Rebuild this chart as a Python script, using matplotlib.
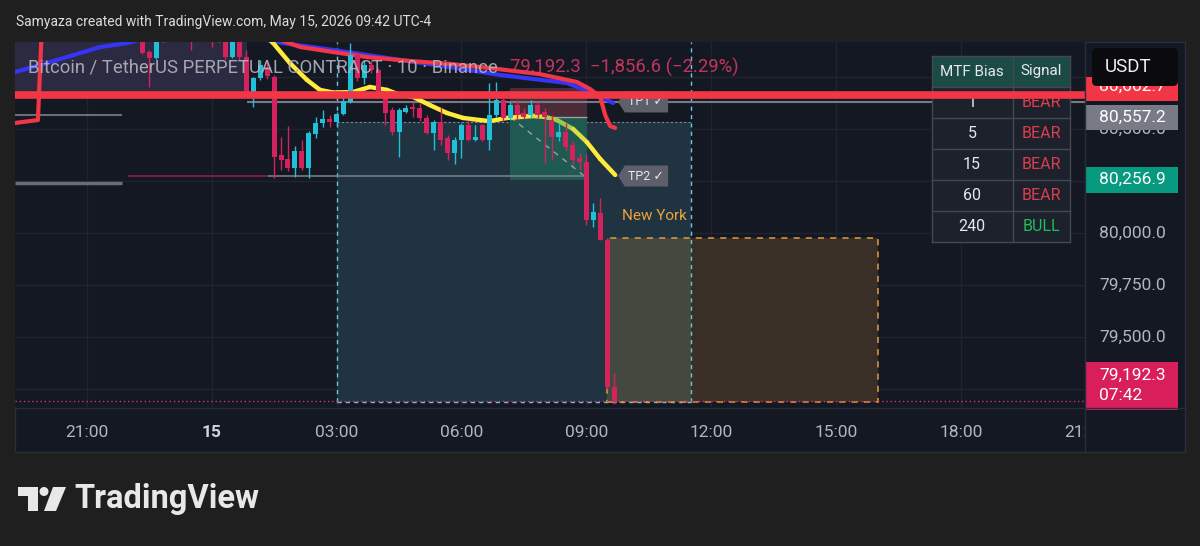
import numpy as np
import matplotlib
matplotlib.use('Agg')
import matplotlib.pyplot as plt
from matplotlib.patches import Rectangle, Polygon, FancyBboxPatch, Circle
from matplotlib.collections import LineCollection
from matplotlib.lines import Line2D
from matplotlib.colors import to_rgb
from matplotlib.transforms import Affine2D, blended_transform_factory, Bbox, TransformedBbox

plt.rcParams['font.family'] = ['Roboto', 'DejaVu Sans']

W, H = 1200, 546
BG = '#1f1f1f'
PANEL = '#141823'
GRID = '#20242f'
TXT = '#b2b5be'
BULL = '#22bfd9'
BEAR = '#d4225f'
AXFS = 12.5  # axis / tag font size

# 10 minute candles, BTCUSDT.P (times = bar open, May 14 evening -> May 15)
bar_times = ['22:20', '22:30', '22:40', '22:50', '23:00', '23:10', '23:20', '23:30', '23:40', '23:50',
             '00:00', '00:10', '00:20', '00:30', '00:40', '00:50', '01:00', '01:10', '01:20', '01:30',
             '01:40', '01:50', '02:00', '02:10', '02:20', '02:30', '02:40', '02:50', '03:00', '03:10',
             '03:20', '03:30', '03:40', '03:50', '04:00', '04:10', '04:20', '04:30', '04:40', '04:50',
             '05:00', '05:10', '05:20', '05:30', '05:40', '05:50', '06:00', '06:10', '06:20', '06:30',
             '06:40', '06:50', '07:00', '07:10', '07:20', '07:30', '07:40', '07:50', '08:00', '08:10',
             '08:20', '08:30', '08:40', '08:50', '09:00', '09:10', '09:20', '09:30', '09:40']
opens = [80920, 80870, 80841, 80930, 80975, 80950, 80980, 80960, 80935, 80965,
         80945, 80930, 80950, 80846, 80925, 80846, 80673, 80745, 80800, 80750,
         80375, 80356, 80313, 80394, 80313, 80476, 80529, 80548, 80534, 80572,
         80630, 80856, 80745, 80808, 80785, 80663, 80591, 80486, 80582, 80606,
         80601, 80553, 80481, 80534, 80457, 80385, 80447, 80519, 80447, 80519,
         80447, 80567, 80640, 80553, 80615, 80577, 80567, 80615, 80582, 80543,
         80462, 80486, 80423, 80361, 80341, 80063, 80096, 79966, 79260]
highs = [80950, 80880, 80960, 80990, 81000, 81010, 80995, 80990, 80985, 80990,
         80970, 80975, 80965, 80950, 80940, 80880, 80750, 80830, 80820, 80760,
         80462, 80514, 80418, 80447, 80490, 80558, 80591, 80567, 80582, 80678,
         80913, 80870, 80830, 80830, 80795, 80673, 80606, 80600, 80615, 80630,
         80625, 80565, 80545, 80605, 80470, 80460, 80530, 80545, 80520, 80525,
         80721, 80726, 80650, 80630, 80640, 80600, 80640, 80630, 80600, 80567,
         80529, 80529, 80440, 80385, 80380, 80144, 80168, 79975, 79327]
lows = [80860, 80702, 80835, 80920, 80935, 80940, 80935, 80880, 80925, 80930,
        80895, 80920, 80835, 80840, 80830, 80660, 80606, 80735, 80740, 80264,
        80303, 80298, 80269, 80303, 80264, 80457, 80510, 80510, 80519, 80567,
        80625, 80730, 80715, 80770, 80650, 80519, 80471, 80365, 80577, 80558,
        80538, 80476, 80399, 80423, 80351, 80332, 80361, 80440, 80440, 80440,
        80399, 80560, 80540, 80545, 80543, 80548, 80553, 80553, 80337, 80351,
        80443, 80395, 80327, 80303, 80040, 80029, 79966, 79250, 79180]
closes = [80865, 80841, 80930, 80960, 80950, 80980, 80955, 80935, 80965, 80945,
          80930, 80950, 80846, 80925, 80846, 80673, 80745, 80808, 80755, 80365,
          80351, 80313, 80394, 80313, 80481, 80529, 80548, 80534, 80572, 80635,
          80856, 80745, 80808, 80785, 80663, 80577, 80486, 80591, 80601, 80596,
          80553, 80481, 80534, 80447, 80385, 80447, 80519, 80447, 80462, 80447,
          80567, 80640, 80553, 80615, 80567, 80558, 80615, 80567, 80558, 80462,
          80486, 80414, 80351, 80341, 80063, 80101, 79966, 79260, 79192.3]

# moving averages (hours from midnight May 15, price)
blue_t = [-4.72, -4.29, -3.47, -2.68, -2.03, -1.0, 0.45, 1.72, 2.92, 3.73, 4.53, 5.72, 6.92, 8.53, 9.16, 9.64]
blue_p = [80774, 80798, 80846, 80894, 80913, 80970, 80960, 80913, 80880, 80856, 80832, 80798, 80760, 80721, 80673, 80625]
red_t = [-4.72, -4.17, -4.09, -4.0, 1.3, 1.72, 2.13, 2.92, 3.73, 4.76, 5.72, 6.68, 7.88, 8.77, 9.09, 9.33, 9.45, 9.57, 9.69]
red_p = [80529, 80543, 80918, 81000, 81000, 80923, 80894, 80870, 80846, 80827, 80813, 80793, 80764, 80726, 80692, 80654, 80567, 80514, 80505]
yellow_t = [1.2, 1.40, 1.48, 1.88, 2.29, 2.60, 2.92, 3.40, 3.80, 4.21, 4.53, 4.84, 5.24, 5.65, 6.04, 6.44, 6.68, 7.09, 7.72, 8.01, 8.29, 8.68, 9.01, 9.33, 9.69]
yellow_p = [81000, 80928, 80913, 80817, 80736, 80688, 80675, 80678, 80702, 80688, 80663, 80654, 80615, 80577, 80553, 80543, 80538, 80553, 80563, 80558, 80543, 80500, 80437, 80356, 80279]

last_price = 79192.3
level_red = 80662.7
entry = 80557.2
tp_price = 80256.9
stop_top = 80697
tp1_level = 80630
tp2_level = 80274

asia_box = (-4.72, 0.85, 80678)
london_box = (3.0, 11.5, 79187, 80534)
ny_box = (9.5, 16.0, 79187, 79976)
trade_box = (7.17, 9.01)

price_ticks = [79250, 79500, 79750, 80000, 80250, 80500, 80750]
price_labelled = [79500, 79750, 80000, 80500]
time_ticks = [-3, 0, 3, 6, 9, 12, 15, 18, 21]
time_labels = ['21:00', '15', '03:00', '06:00', '09:00', '12:00', '15:00', '18:00', '21:00']

tf_rows = ['1', '5', '15', '60', '240']
tf_signal = ['BEAR', 'BEAR', 'BEAR', 'BEAR', 'BULL']


def hours(s):
    h, m = map(int, s.split(':'))
    if h >= 18:
        h -= 24
    return h + m / 60


t = np.array([hours(s) for s in bar_times])
o, hi, lo, c = map(np.array, (opens, highs, lows, closes))

PIX = Affine2D().scale(1, -1).translate(0, H)  # pixel coords, origin top-left

fig = plt.figure(figsize=(W / 100, H / 100), dpi=100, facecolor=BG)
fig.add_artist(Rectangle((15, 42), 1170, 410, transform=PIX, facecolor=PANEL,
                         edgecolor='#2a2e39', lw=1, zorder=-1))

ax = fig.add_axes([15 / W, 1 - 407 / H, 1070 / W, 365 / H])
ax.set_facecolor(PANEL)
ax.set_xlim(-4.72, 20.97)
ax.set_ylim(79163.4, 80918.3)
for s in ax.spines.values():
    s.set_visible(False)
ax.set_xticks([])
ax.set_yticks([])
ppx = (80918.3 - 79163.4) / 365  # price per pixel
xy_ax = blended_transform_factory(ax.transAxes, ax.transData)
dx_ax = blended_transform_factory(ax.transData, ax.transAxes)
lab_x = (1099 - 15) / 1070

# grid
for tt in time_ticks:
    ax.axvline(tt, color=GRID, lw=1, zorder=0.5)
for p in price_ticks:
    ax.axhline(p, color=GRID, lw=1, zorder=0.5)
for p in price_labelled:
    ax.text(lab_x, p, '{:,.1f}'.format(p), transform=xy_ax, color=TXT, fontsize=AXFS,
            ha='left', va='center', clip_on=False, zorder=2.5)

# session boxes
ax.add_patch(Rectangle((asia_box[0], asia_box[2]), asia_box[1] - asia_box[0], 400,
                       facecolor='#2b2a40', edgecolor='none', zorder=1))
ax.hlines(asia_box[2], asia_box[0], asia_box[1], color='#5a5670', lw=0.8, linestyles=(0, (2, 2)), zorder=1.2)
lx0, lx1, lb, lt = london_box
ax.add_patch(Rectangle((lx0, lb), lx1 - lx0, lt - lb, facecolor='#1f3440', edgecolor='none', zorder=1))
nx0, nx1, nb, nt = ny_box
ax.add_patch(Rectangle((nx0, nb), nx1 - nx0, nt - nb, facecolor='#3a2f27', edgecolor='none', zorder=1.1))
ax.add_patch(Rectangle((nx0, nb), lx1 - nx0, nt - nb, facecolor='#444940', edgecolor='none', zorder=1.1))
ax.add_patch(Rectangle((nx0, nb), nx1 - nx0, nt - nb, facecolor='none', edgecolor='#e69a3c',
                       lw=1.1, linestyle=(0, (4, 4)), zorder=1.3))
ax.hlines(lt, lx0, lx1, color='#7b8896', lw=0.8, linestyles=(0, (2, 2)), zorder=1.2)
ax.hlines(lb, lx0, lx1, color='#6cc8de', lw=1, linestyles=(0, (3, 3)), zorder=1.2)
ax.vlines([lx0, lx1], lb, 80918.3, color='#6cc8de', lw=1, linestyles=(0, (3, 3)), zorder=1.2)

# trade zones
tx0, tx1 = trade_box
ax.add_patch(Rectangle((tx0, entry), tx1 - tx0, stop_top - entry, facecolor='#4a2b36', edgecolor='none', zorder=1.5))
ax.add_patch(Rectangle((tx0, tp_price), tx1 - tx0, entry - tp_price, facecolor='#1e5a52', edgecolor='none', zorder=1.5))
ax.hlines(entry, tx0, tx1, color='#9aa0aa', lw=1, zorder=1.6)
ax.plot([tx0, tx1 - 0.06], [entry, tp2_level], color='#9aa0aa', lw=1, ls=(0, (4, 4)), zorder=1.6)

# horizontal levels
ax.hlines([80567, 80240], -4.72, -2.15, color='#6a6d78', lw=[1.5, 2.5], zorder=2)
ax.hlines(tp2_level, -2.0, 1.36, color='#8b1f45', lw=1.2, zorder=2)
ax.hlines(tp2_level, 1.36, 9.01, color='#787b86', lw=1.2, zorder=2)
ax.hlines(tp1_level, 0.85, 20.97, color='#787b86', lw=1.5, zorder=2)

# moving averages
ax.plot(blue_t, blue_p, color='#3535f5', lw=3, solid_capstyle='round', zorder=3)
ax.plot(red_t, red_p, color='#f23645', lw=3, solid_capstyle='round', zorder=3.1)
pts = np.column_stack([yellow_t, yellow_p])
segs = np.stack([pts[:-1], pts[1:]], axis=1)
mid = (np.array(yellow_t[:-1]) + np.array(yellow_t[1:])) / 2
wgt = np.clip(1 - np.abs(mid - 8.35) / 0.7, 0, 1)
ycol, gcol = np.array(to_rgb('#ffeb3b')), np.array(to_rgb('#8bc34a'))
ax.add_collection(LineCollection(segs, colors=[(1 - w) * ycol + w * gcol for w in wgt],
                                 linewidths=3.2, capstyle='round', joinstyle='round', zorder=3.2))

# candles
up = c >= o
col = np.where(up, BULL, BEAR)
ax.vlines(t, lo, hi, color=col, lw=1, zorder=4)
body_lo = np.minimum(o, c)
body_h = np.maximum(np.abs(c - o), 6)
ax.bar(t, body_h, bottom=body_lo, width=0.12, color=col, linewidth=0, zorder=4.1)

# TP tags
for lvl, name in [(tp1_level, 'TP1 ✓'), (tp2_level, 'TP2 ✓')]:
    hh = 10.5 * ppx
    ax.add_patch(Polygon([(9.76, lvl), (9.92, lvl + hh), (10.96, lvl + hh), (10.96, lvl - hh), (9.92, lvl - hh)],
                         closed=True, facecolor='#5d606b', edgecolor='none', zorder=5))
    ax.text(10.44, lvl, name, color='#e6e8ee', fontsize=9, ha='center', va='center', zorder=5.1)

ax.text(11.42, 80082, 'New York', color='#f0a23a', fontsize=11, ha='right', va='center', zorder=5)

# MTF table
tcols = [932, 1013, 1070]
trows = [56, 87, 118, 149, 180, 211, 242]
ax.add_patch(Rectangle((932, 56), 138, 31, transform=PIX, facecolor='#1c4a44', edgecolor='none', clip_on=False, zorder=6))
ax.add_patch(Rectangle((932, 87), 138, 155, transform=PIX, facecolor='#1d212b', edgecolor='none', clip_on=False, zorder=6))
for yy in trows:
    ax.add_line(Line2D([932, 1070], [yy, yy], transform=PIX, color='#444853', lw=1, clip_on=False, zorder=6.1))
for xx in tcols:
    ax.add_line(Line2D([xx, xx], [56, 242], transform=PIX, color='#444853', lw=1, clip_on=False, zorder=6.1))
ax.text(972, 71.5, 'MTF Bias', transform=PIX, color='#e6e8ee', fontsize=11, ha='center', va='center', clip_on=False, zorder=6.2)
ax.text(1041, 71.5, 'Signal', transform=PIX, color='#e6e8ee', fontsize=11, ha='center', va='center', clip_on=False, zorder=6.2)
for i, (tf, sig) in enumerate(zip(tf_rows, tf_signal)):
    yc = (trows[i + 1] + trows[i + 2]) / 2
    ax.text(972, yc, tf, transform=PIX, color='#e6e8ee', fontsize=11.5, ha='center', va='center', clip_on=False, zorder=6.2)
    ax.text(1041, yc, sig, transform=PIX, color='#1fbf5f' if sig == 'BULL' else '#dd3e4e',
            fontsize=11.5, ha='center', va='center', clip_on=False, zorder=6.2)

# key level + last price line
ax.axhline(level_red, color='#f23645', lw=5.5, zorder=7)
ax.axhline(last_price, color='#d6336c', lw=1, ls=(0, (1, 2)), zorder=7)

# price axis tags (red tag pushed up under the USDT button, as in the screenshot)
x0f, wf = (1086 - 15) / 1070, 92 / 1070
red_tag_y = level_red + 6 * ppx
ax.add_patch(Rectangle((x0f, red_tag_y - 12 * ppx), wf, 24 * ppx, transform=xy_ax,
                       facecolor='#f23645', edgecolor='none', clip_on=False, zorder=8))
ax.text(lab_x, red_tag_y + 3 * ppx, '{:,.1f}'.format(level_red), transform=xy_ax, color='white',
        fontsize=AXFS, ha='left', va='center', clip_on=False, zorder=8.1)
for price, face, hpx in [(entry, '#787b86', 25), (tp_price, '#089981', 26)]:
    ax.add_patch(Rectangle((x0f, price - hpx / 2 * ppx), wf, hpx * ppx, transform=xy_ax,
                           facecolor=face, edgecolor='none', clip_on=False, zorder=8.2))
    ax.text(lab_x, price, '{:,.1f}'.format(price), transform=xy_ax, color='white',
            fontsize=AXFS, ha='left', va='center', clip_on=False, zorder=8.3)
ax.add_patch(Rectangle((x0f, last_price - 9 * ppx), wf, 48 * ppx, transform=xy_ax,
                       facecolor='#d81e5b', edgecolor='none', clip_on=False, zorder=8))
ax.text(lab_x, last_price + 26 * ppx, '{:,.1f}'.format(last_price), transform=xy_ax,
        color='white', fontsize=AXFS, ha='left', va='center', clip_on=False, zorder=8.1)
ax.text(lab_x, last_price + 5 * ppx, '07:42', transform=xy_ax,
        color='white', fontsize=AXFS, ha='left', va='center', clip_on=False, zorder=8.1)
ax.add_patch(FancyBboxPatch((1092, 48), 86, 38, boxstyle='round,pad=0,rounding_size=5', transform=PIX,
                            facecolor='#0b0b0d', edgecolor='none', clip_on=False, zorder=8.5))
ax.text(1105, 67, 'USDT', transform=PIX, color='#f0f0f0', fontsize=13.5, ha='left', va='center',
        clip_on=False, zorder=8.6)

# legend line
ax.text(28, 67, 'Bitcoin / TetherUS PERPETUAL CONTRACT · 10 · Binance', transform=PIX, color=TXT,
        fontsize=13.3, ha='left', va='center', alpha=0.9, zorder=10)
ax.text(510, 67, '79,192.3  −1,856.6 (−2.29%)', transform=PIX, color='#d63864',
        fontsize=13.3, ha='left', va='center', alpha=0.9, zorder=10)

# time axis labels
clip = TransformedBbox(Bbox([[0, -0.3], [1, 1]]), ax.transAxes)
for tt, lab in zip(time_ticks, time_labels):
    txt = ax.text(tt, -0.0685, lab, transform=dx_ax, color=TXT if lab != '15' else '#d1d4dc',
                  fontsize=AXFS, fontweight='bold' if lab == '15' else 'normal',
                  ha='center', va='center', clip_on=True)
    txt.set_clip_box(clip)

# panel separators
fig.add_artist(Line2D([1085, 1085], [42, 452], transform=PIX, color='#2a2e39', lw=1))
fig.add_artist(Line2D([15, 1185], [407.5, 407.5], transform=PIX, color='#2a2e39', lw=1))

# header and logo
fig.text(16, 22, 'Samyaza created with TradingView.com, May 15, 2026 09:42 UTC-4', transform=PIX,
         color='#dcdcdc', fontsize=10, ha='left', va='center')
logo = '#e8e8e8'
fig.add_artist(Polygon([(18, 487), (38, 487), (38, 511), (28, 511), (28, 496), (18, 496)], closed=True,
                       transform=PIX, facecolor=logo, edgecolor='none'))
fig.add_artist(Circle((44, 491.5), 4.5, transform=PIX, facecolor=logo, edgecolor='none'))
fig.add_artist(Polygon([(53, 487), (66, 487), (56, 511), (44, 511)], closed=True,
                       transform=PIX, facecolor=logo, edgecolor='none'))
fig.text(74, 499, 'TradingView', transform=PIX, color=logo, fontsize=23.5, fontweight='bold',
         ha='left', va='center')

fig.savefig('out.png', dpi=100, facecolor=BG)
